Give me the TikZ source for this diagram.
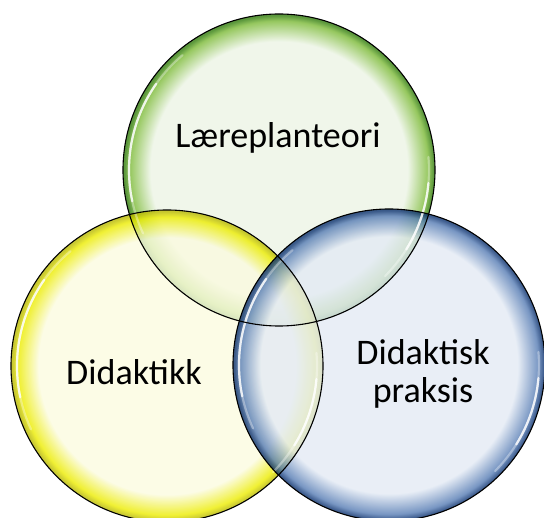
\documentclass[tikz,border=0pt]{standalone}
\usepackage{fontspec}
\setmainfont{Carlito}

% fill colours (used with fill opacity)
\definecolor{gin}{RGB}{236,244,229}
\definecolor{grim}{RGB}{124,186,55}
\definecolor{gdark}{RGB}{49,124,11}
\definecolor{yin}{RGB}{251,251,224}
\definecolor{yrim}{RGB}{236,236,0}
\definecolor{ydark}{RGB}{186,186,0}
\definecolor{bin}{RGB}{227,234,244}
\definecolor{brim}{RGB}{86,124,180}
\definecolor{bdark}{RGB}{11,49,111}

% glassy discs: flat light interior, saturated band near the rim
\pgfdeclareradialshading{greenglass}{\pgfpoint{0bp}{0bp}}{color(0bp)=(gin); color(20.6bp)=(gin); color(23.9bp)=(grim); color(24.8bp)=(gdark); color(25bp)=(gdark); color(50bp)=(gdark)}
\pgfdeclareradialshading{yellowglass}{\pgfpoint{0bp}{0bp}}{color(0bp)=(yin); color(20.6bp)=(yin); color(23.9bp)=(yrim); color(24.8bp)=(ydark); color(25bp)=(ydark); color(50bp)=(ydark)}
\pgfdeclareradialshading{blueglass}{\pgfpoint{0bp}{0bp}}{color(0bp)=(bin); color(20.6bp)=(bin); color(23.9bp)=(brim); color(24.8bp)=(bdark); color(25bp)=(bdark); color(50bp)=(bdark)}

\tikzset{
  disc/.style={fill opacity=0.8, draw=none},
  rim/.style={draw=black, line width=1.1pt},
  shine/.style={draw=white, line width=2.2pt, line cap=round},
  label/.style={font=\fontsize{36}{38}\selectfont, inner sep=0pt, anchor=base, text=black}
}

% highlight arcs along the inside of a disc (angles as seen on the page)
\newcommand\glassshine[1]{%
  \draw[shine, opacity=0.35] (#1) ++(-130:150) arc[start angle=-130, end angle=-205, radius=150];
  \draw[shine, opacity=0.8] (#1) ++(-145:150) arc[start angle=-145, end angle=-192, radius=150];
  \draw[shine, opacity=0.35] (#1) ++(-5:150) arc[start angle=-5, end angle=45, radius=150];
  \draw[shine, opacity=0.8] (#1) ++(5:150) arc[start angle=5, end angle=32, radius=150];
}

\begin{document}
\begin{tikzpicture}[x=1pt, y=-1pt]
  \useasboundingbox (0,0) rectangle (544,518);

  \coordinate (gc) at (279,170);
  \coordinate (yc) at (167,366);
  \coordinate (bc) at (389,365);

  % discs
  \shade[disc, shading=greenglass]  (gc) circle[radius=156];
  \shade[disc, shading=yellowglass] (yc) circle[radius=156];
  \shade[disc, shading=blueglass]   (bc) circle[radius=156];

  % reflections
  \glassshine{gc}
  \glassshine{yc}
  \glassshine{bc}

  % outlines
  \draw[rim] (gc) circle[radius=156];
  \draw[rim] (yc) circle[radius=156];
  \draw[rim] (bc) circle[radius=156];

  % labels
  \node[label] (teori) at (278,148) {Læreplanteori};
  \node[label] (didaktikk) at (134,385) {Didaktikk};
  \node[label] (praksis1) at (423,365) {Didaktisk};
  \node[label] (praksis2) at (423,403) {praksis};
\end{tikzpicture}
\end{document}
